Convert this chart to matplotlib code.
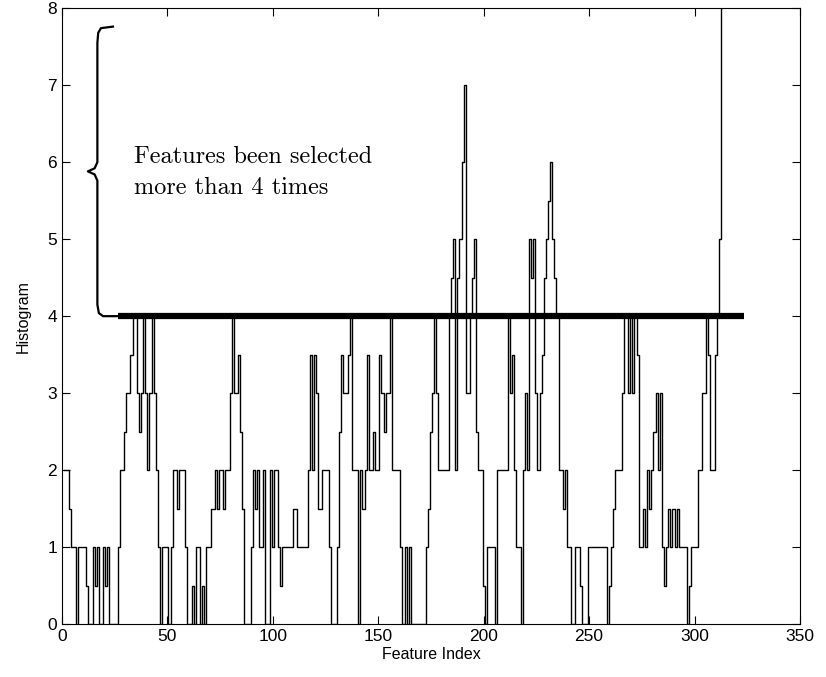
import numpy as np
import matplotlib.pyplot as plt

# histogram value of each feature index (1..313)
hist_values = [
    2, 2, 2, 1.5, 1, 1, 0, 1, 1, 1, 1, 0.5, 0, 0, 1, 0.5, 1, 0, 0, 1,
    0.5, 1, 0, 0, 0, 0, 1, 2, 2, 2.5, 3, 3, 3.5, 4, 4, 3, 2.5, 3, 4, 3,
    2, 3, 4, 3, 2, 1, 0, 1, 1, 1, 0, 1, 2, 2, 1.5, 2, 2, 2, 1, 0,
    0, 0.5, 0, 1, 1, 0, 0.5, 0, 1, 1, 1.5, 1.5, 2, 1.5, 2, 2, 1.5, 2, 2, 3,
    4, 3, 3, 3.5, 2.5, 1.5, 0, 0, 0, 1, 2, 1.5, 2, 1, 1, 2, 0, 0, 2, 1,
    2, 2, 1, 0.5, 1, 1, 1, 1, 1, 1.5, 1.5, 1, 1, 1, 1, 1, 2, 3.5, 2, 3.5,
    3, 1.5, 1.5, 2, 2, 2, 1, 0, 0, 0, 1, 2.5, 3.5, 3, 3, 3.5, 4, 2, 2, 2,
    0, 2, 1.5, 2, 3.5, 2, 2, 2.5, 2, 2, 3.5, 3, 2.5, 3, 3, 4, 2, 2, 2, 2,
    1, 0, 1, 0, 1, 0, 0, 0, 0, 0, 0, 0, 1, 1.5, 2.5, 3, 4, 3, 2, 2,
    2, 2, 2, 4, 4.5, 5, 2, 4.5, 5, 6, 7, 3, 3, 4, 4.5, 5, 2.5, 2, 2, 0.5,
    0, 1, 1, 1, 1, 0, 2, 2, 2, 2, 2, 4, 3, 3.5, 2, 1, 1, 0, 2, 3,
    2, 5, 4.5, 5, 3, 2, 3, 3.5, 4.5, 5, 5.5, 6, 5, 4.5, 4, 2, 2, 1.5, 2, 1,
    1, 0, 0, 1, 1, 0.5, 0, 0, 0, 1, 1, 1, 1, 1, 1, 1, 1, 1, 0, 0.5,
    1, 1.5, 2, 2, 2, 3, 4, 4, 3, 4, 3, 4, 3.5, 1, 1, 1.5, 1, 2, 1.5, 2,
    2.5, 3, 2, 3, 1, 0.5, 1, 1.5, 1, 1.5, 1, 1.5, 1, 1, 1, 1, 0, 0.5, 1, 1,
    1, 2, 2, 3, 3, 4, 3.5, 2, 2, 3.5, 4, 5, 8,
]
feature_index = np.arange(1, len(hist_values) + 1)

threshold = 4
threshold_span = [26.5, 323.5]

x_ticks = [0, 50, 100, 150, 200, 250, 300, 350]
y_ticks = [0, 1, 2, 3, 4, 5, 6, 7, 8]

plt.rcParams['font.family'] = ['Liberation Sans', 'DejaVu Sans']

fig = plt.figure(figsize=(8.26, 6.77), dpi=100)
ax = fig.add_axes([0.075, 0.078, 0.8935, 0.910])

ax.step(feature_index, hist_values, where='mid', color='black', lw=1.0)
ax.plot(threshold_span, [threshold, threshold], color='black', lw=4.5,
        solid_capstyle='butt')

# curly bracket marking the region above the threshold
bx = [24.2, 18.5, 17.2, 16.8, 16.8, 15.5, 12.3, 15.5, 16.8, 16.8, 17.5, 19.5, 26.5]
by = [7.76, 7.74, 7.68, 7.55, 6.0, 5.92, 5.88, 5.84, 5.76, 4.15, 4.04, 4.0, 4.0]
ax.plot(bx, by, color='black', lw=1.6)

ax.text(34, 5.87, "Features been selected\nmore than 4 times",
        family=['cmr10', 'DejaVu Serif'], fontsize=17.5, va='center',
        linespacing=1.5)

ax.set_xlim(0, 350)
ax.set_ylim(0, 8)
ax.set_xticks(x_ticks)
ax.set_yticks(y_ticks)
ax.tick_params(direction='in', length=6, top=True, right=True, labelsize=12.5)
ax.set_xlabel("Feature Index", fontsize=11.5, labelpad=2)
ax.set_ylabel("Histogram", fontsize=11.5, labelpad=12)

fig.savefig("out.png", dpi=100)
